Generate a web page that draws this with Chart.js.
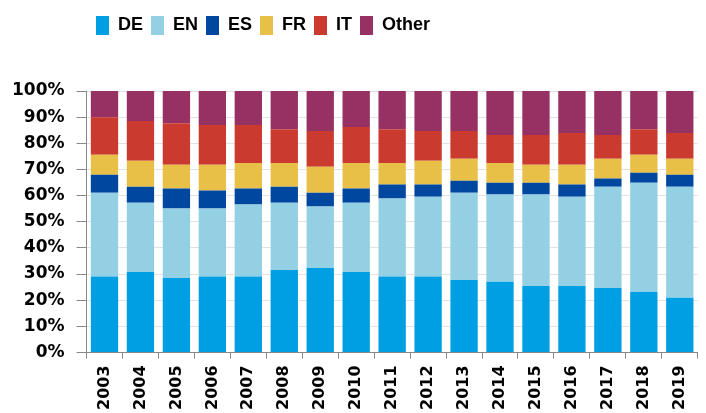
<!DOCTYPE html>
<html>
<head>
<meta charset="utf-8">
<script src="https://cdn.jsdelivr.net/npm/chart.js@4.4.1/dist/chart.umd.min.js"></script>
<style>
html,body{margin:0;padding:0;background:#fff;}
#wrap{width:706px;height:413px;}
</style>
</head>
<body>
<div id="wrap"><canvas id="c" width="706" height="413"></canvas></div>
<script>
const years = ["2003","2004","2005","2006","2007","2008","2009","2010","2011","2012","2013","2014","2015","2016","2017","2018","2019"];
const DE    = [29.1,30.8,28.5,29.1,29.1,31.5,32.3,30.8,29.1,29.1,27.7,27.0,25.4,25.4,24.7,23.2,20.9];
const EN    = [32.0,26.5,26.6,26.0,27.5,25.8,23.5,26.5,29.8,30.5,33.4,33.4,35.0,34.2,38.7,41.7,42.5];
const ES    = [6.9,6.1,7.6,6.8,6.1,6.1,5.3,5.4,5.3,4.6,4.6,4.5,4.5,4.6,3.1,3.8,4.6];
const FR    = [7.6,9.9,9.1,9.9,9.8,9.1,9.9,9.8,8.3,9.1,8.4,7.6,6.9,7.6,7.6,6.9,6.1];
const IT    = [14.4,15.2,15.9,15.2,14.5,12.9,13.7,13.7,12.9,11.4,10.6,10.7,11.4,12.1,9.1,9.8,9.8];
const Other = [10.0,11.5,12.3,13.0,13.0,14.6,15.3,13.8,14.6,15.3,15.3,16.8,16.8,16.1,16.8,14.6,16.1];
const yTicks = [0,10,20,30,40,50,60,70,80,90,100];

const series = [
  {label:"DE", data:DE, color:"#009FE3"},
  {label:"EN", data:EN, color:"#93D0E3"},
  {label:"ES", data:ES, color:"#0047A0"},
  {label:"FR", data:FR, color:"#E8BF47"},
  {label:"IT", data:IT, color:"#CB3A2F"},
  {label:"Other", data:Other, color:"#973164"}
];

const legendMargin = {
  id:'legendMargin',
  beforeInit(chart){
    const lg = chart.legend;
    const fit = lg.fit;
    lg.fit = function(){ fit.bind(lg)(); this.height += 46; };
  },
  afterLayout(chart){
    chart.legend.right -= 180;
  }
};

new Chart(document.getElementById('c'), {
  type:'bar',
  data:{
    labels:years,
    datasets:series.map(s=>({label:s.label,data:s.data,backgroundColor:s.color,borderWidth:0,categoryPercentage:0.76,barPercentage:1}))
  },
  plugins:[legendMargin],
  options:{
    responsive:false,
    animation:false,
    layout:{padding:{left:0,right:0,top:8,bottom:-4}},
    plugins:{
      legend:{
        position:'top',
        labels:{
          boxWidth:13, boxHeight:19, padding:8,
          color:'#000',
          font:{family:"'Liberation Sans',Arial,sans-serif",size:18,weight:'bold'}
        }
      },
      tooltip:{enabled:false}
    },
    scales:{
      x:{
        stacked:true,
        grid:{drawOnChartArea:false,drawTicks:true,tickLength:6,color:'#888',offset:true},
        border:{display:true,color:'#888',width:1},
        ticks:{
          maxRotation:90,minRotation:90,padding:7,color:'#000',autoSkip:false,
          font:{family:"'DejaVu Sans',Verdana,sans-serif",size:16,weight:'bold'}
        }
      },
      y:{
        stacked:true,
        min:0,max:100,
        afterBuildTicks(axis){ axis.ticks = yTicks.map(v=>({value:v})); },
        grid:{color:'#e2e2e2',drawTicks:true,tickLength:10,tickColor:'#888'},
        border:{display:true,color:'#888',width:1},
        ticks:{
          stepSize:10,padding:12,color:'#000',
          callback:v=>v+'%',
          font:{family:"'DejaVu Sans',Verdana,sans-serif",size:17,weight:'bold'}
        }
      }
    }
  }
});
</script>
</body>
</html>
